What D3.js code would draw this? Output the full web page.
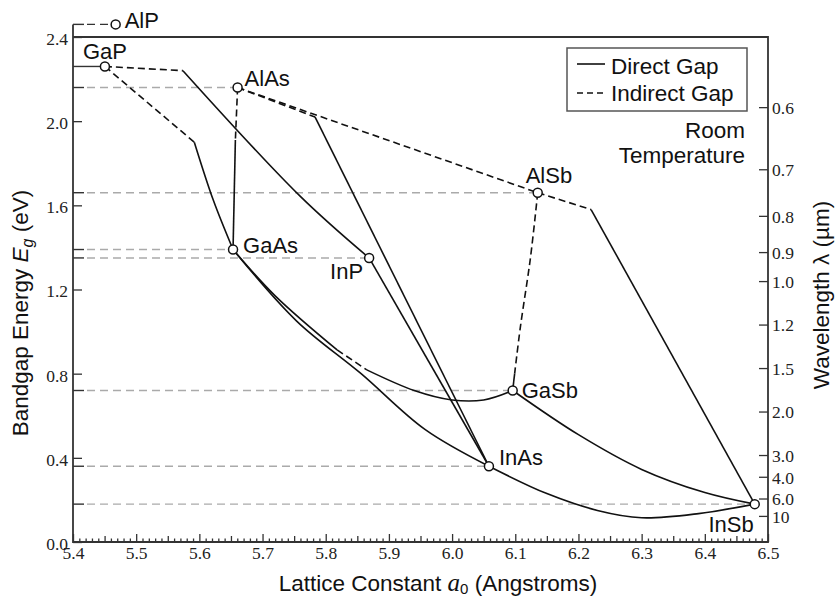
<!DOCTYPE html>
<html>
<head>
<meta charset="utf-8">
<script src="https://cdn.jsdelivr.net/npm/d3@7"></script>
<style>
  body { margin: 0; background: #fff; }
  svg { display: block; }
  .sans { font-family: "Liberation Sans", Arial, sans-serif; fill: #111; }
  .tick text { font-family: "Liberation Serif", "Times New Roman", serif; font-size: 17.5px; fill: #222; }
  .tick line { stroke: #333; stroke-width: 1.3; }
</style>
</head>
<body>
<div id="chart"></div>
<script>
// Binary compounds: lattice constant (Angstrom) and bandgap (eV)
const materials = ["AlP", "GaP", "AlAs", "GaAs", "InP", "AlSb", "GaSb", "InAs", "InSb"];
const latticeConst = [5.4675, 5.4505, 5.6605, 5.6533, 5.8687, 6.1355, 6.0959, 6.0583, 6.479];
const bandgap = [2.46, 2.26, 2.16, 1.39, 1.35, 1.66, 0.72, 0.36, 0.18];

// Ternary alloy curves, [a0, Eg] pairs
const indirectSegments = [
    [[5.4505, 2.26], [5.574, 2.24]],                       // GaP -> GaInP crossover
    [[5.4505, 2.26], [5.592, 1.90]],                       // GaP -> GaAsP crossover
    [[5.6605, 2.16], [5.657, 1.91]],                       // AlAs -> AlGaAs crossover
    [[5.6605, 2.16], [6.1355, 1.66]],                      // AlAs -> AlSb
    [[5.6605, 2.16], [5.783, 2.02]],                       // AlAs -> AlInAs crossover
    [[6.1355, 1.66], [6.22, 1.58]],                        // AlSb -> AlInSb crossover
    [[6.1355, 1.66], [6.124, 1.35], [6.108, 1.02], [6.099, 0.80]], // AlSb -> AlGaSb crossover
    [[5.818, 0.913], [5.865, 0.818]]                       // GaAsSb gap
];
const directSegments = [
    [[5.574, 2.24], [5.759, 1.645], [5.8687, 1.35]],       // GaInP
    [[5.592, 1.90], [5.622, 1.625], [5.6533, 1.39]],       // GaAsP
    [[5.657, 1.91], [5.6533, 1.39]],                       // AlGaAs
    [[5.783, 2.02], [6.0583, 0.36]],                       // AlInAs
    [[5.8687, 1.35], [6.0583, 0.36]],                      // InAsP
    [[5.6533, 1.39], [5.754, 1.05], [5.856, 0.80], [5.957, 0.535], [6.0583, 0.36]], // InGaAs
    [[5.6533, 1.39], [5.72, 1.17], [5.818, 0.913]],        // GaAsSb (upper part)
    [[5.865, 0.818], [5.94, 0.72], [6.0, 0.675], [6.05, 0.675], [6.0959, 0.72]], // GaAsSb (lower part)
    [[6.0959, 0.72], [6.20, 0.51], [6.30, 0.345], [6.40, 0.235], [6.479, 0.18]], // GaInSb
    [[6.0583, 0.36], [6.15, 0.23], [6.23, 0.15], [6.30, 0.115], [6.39, 0.135], [6.479, 0.18]], // InAsSb
    [[6.22, 1.58], [6.479, 0.18]],                         // AlInSb
    [[6.0959, 0.72], [6.099, 0.80]]                        // AlGaSb (direct part)
];

// Axis ticks
const energyTicks = [0.0, 0.4, 0.8, 1.2, 1.6, 2.0, 2.4];
const latticeTicks = [5.4, 5.5, 5.6, 5.7, 5.8, 5.9, 6.0, 6.1, 6.2, 6.3, 6.4, 6.5];
const wavelengthTicks = [0.6, 0.7, 0.8, 0.9, 1.0, 1.2, 1.5, 2.0, 3.0, 4.0, 6.0, 10];
const wavelengthLabels = ["0.6", "0.7", "0.8", "0.9", "1.0", "1.2", "1.5", "2.0", "3.0", "4.0", "6.0", "10"];

const W = 835, H = 599;
const margin = {left: 73, right: 768, top: 37, bottom: 542};

const svg = d3.select("#chart").append("svg")
    .attr("width", W)
    .attr("height", H);

const x = d3.scaleLinear().domain([5.4, 6.5]).range([margin.left, margin.right]);
const y = d3.scaleLinear().domain([0, 2.4]).range([margin.bottom, margin.top]);

// label placement relative to each marker
const labelPos = {
    AlP: [9, 4, "start"], GaP: [0, -7, "middle"], AlAs: [7, -2, "start"],
    GaAs: [10, 3, "start"], InP: [-6, 21, "end"], AlSb: [-12, -10, "start"],
    GaSb: [9, 7, "start"], InAs: [10, -1, "start"], InSb: [-1, 28, "end"]
};

const pts = materials.map((m, i) => ({name: m, a: latticeConst[i], eg: bandgap[i]}));

// Gray reference lines from the left axis to each compound
const refs = svg.append("g");
pts.forEach(p => {
    const yy = y(p.eg);
    if (p.name === "GaP") {
        refs.append("line").attr("x1", margin.left).attr("x2", x(p.a) - 4)
            .attr("y1", yy).attr("y2", yy).attr("stroke", "#333").attr("stroke-width", 1.4);
        return;
    }
    const dark = p.name === "AlP";
    refs.append("line").attr("x1", margin.left).attr("x2", margin.left + 11)
        .attr("y1", yy).attr("y2", yy).attr("stroke", "#333").attr("stroke-width", 1.4);
    refs.append("line").attr("x1", margin.left + 14).attr("x2", x(p.a) - 4)
        .attr("y1", yy).attr("y2", yy)
        .attr("stroke", dark ? "#333" : "#aaa")
        .attr("stroke-width", 1.4)
        .attr("stroke-dasharray", "8,5");
});

// Axes
const minor = d3.range(541, 650).map(d => d / 100).filter(d => Math.round(d * 100) % 10 !== 0);
const xMinor = svg.append("g").attr("transform", `translate(0,${margin.bottom})`)
    .call(d3.axisBottom(x).tickValues(minor).tickSize(-3).tickFormat(""));
xMinor.selectAll(".tick line").attr("y2", d => Math.round(d * 100) % 5 === 0 ? -6 : -3.5);

const xAxis = svg.append("g").attr("transform", `translate(0,${margin.bottom})`)
    .call(d3.axisBottom(x).tickValues(latticeTicks).tickSize(-8).tickPadding(5).tickFormat(d3.format(".1f")));

const yAxis = svg.append("g").attr("transform", `translate(${margin.left},0)`)
    .call(d3.axisLeft(y).tickValues(energyTicks).tickSize(-9).tickPadding(5).tickFormat(d3.format(".1f")));
yAxis.selectAll(".tick text").attr("dy", "0.42em");

const rAxis = svg.append("g").attr("transform", `translate(${margin.right},0)`)
    .call(d3.axisRight(y).tickValues(wavelengthTicks.map(l => 1.24 / l)).tickSize(-9).tickPadding(4)
        .tickFormat((d, i) => wavelengthLabels[i]));
rAxis.selectAll(".tick text").attr("dy", "0.36em");

svg.selectAll(".domain").remove();

// Frame
const frame = svg.append("g").attr("stroke", "#333").attr("stroke-width", 1.8).attr("fill", "none");
frame.append("path").attr("d",
    `M${margin.left},${y(bandgap[0])}V${margin.bottom}H${margin.right}V${margin.top}H${margin.left}`);

// Curves
const line = d3.line().x(d => x(d[0])).y(d => y(d[1])).curve(d3.curveCatmullRom.alpha(0.5));
svg.append("g").selectAll("path").data(directSegments).enter().append("path")
    .attr("d", line).attr("fill", "none").attr("stroke", "#111").attr("stroke-width", 1.6);
svg.append("g").selectAll("path").data(indirectSegments).enter().append("path")
    .attr("d", line).attr("fill", "none").attr("stroke", "#111").attr("stroke-width", 1.6)
    .attr("stroke-dasharray", "7,4");

// Markers and labels
svg.append("g").selectAll("circle").data(pts).enter().append("circle")
    .attr("cx", d => x(d.a)).attr("cy", d => y(d.eg)).attr("r", 4.5)
    .attr("fill", "#fff").attr("stroke", "#111").attr("stroke-width", 1.5);

svg.append("g").selectAll("text").data(pts).enter().append("text")
    .attr("class", "sans")
    .attr("x", d => x(d.a) + labelPos[d.name][0])
    .attr("y", d => y(d.eg) + labelPos[d.name][1])
    .attr("text-anchor", d => labelPos[d.name][2])
    .attr("font-size", 22)
    .text(d => d.name);

// Legend
const legend = svg.append("g");
legend.append("rect").attr("x", 567).attr("y", 48).attr("width", 180).attr("height", 63)
    .attr("fill", "#fff").attr("stroke", "#555").attr("stroke-width", 1.5);
legend.append("line").attr("x1", 577).attr("x2", 605).attr("y1", 64).attr("y2", 64)
    .attr("stroke", "#111").attr("stroke-width", 1.6);
legend.append("line").attr("x1", 577).attr("x2", 605).attr("y1", 93).attr("y2", 93)
    .attr("stroke", "#111").attr("stroke-width", 1.6).attr("stroke-dasharray", "6,4");
legend.append("text").attr("class", "sans").attr("x", 611).attr("y", 74).attr("font-size", 22.5).text("Direct Gap");
legend.append("text").attr("class", "sans").attr("x", 611).attr("y", 101).attr("font-size", 22.5).text("Indirect Gap");

svg.append("text").attr("class", "sans").attr("x", 745).attr("y", 138).attr("text-anchor", "end")
    .attr("font-size", 22.5).text("Room");
svg.append("text").attr("class", "sans").attr("x", 745).attr("y", 163).attr("text-anchor", "end")
    .attr("font-size", 22.5).text("Temperature");

// Axis titles
const xt = svg.append("text").attr("class", "sans").attr("x", 438).attr("y", 591)
    .attr("text-anchor", "middle").attr("font-size", 22.5);
xt.append("tspan").text("Lattice Constant ");
xt.append("tspan").attr("font-family", "Liberation Serif, serif").attr("font-style", "italic").attr("font-size", 25).text("a");
xt.append("tspan").attr("font-size", 15).attr("dy", 3).text("0");
xt.append("tspan").attr("dy", -3).text(" (Angstroms)");

const yt = svg.append("text").attr("class", "sans").attr("transform", "translate(28,313) rotate(-90)")
    .attr("text-anchor", "middle").attr("font-size", 22.5);
yt.append("tspan").text("Bandgap Energy ");
yt.append("tspan").attr("font-style", "italic").text("E");
yt.append("tspan").attr("font-style", "italic").attr("font-size", 16).attr("dy", 5).text("g");
yt.append("tspan").attr("dy", -5).text(" (eV)");

svg.append("text").attr("class", "sans").attr("transform", "translate(829,295) rotate(-90)")
    .attr("text-anchor", "middle").attr("font-size", 22.5).text("Wavelength λ (µm)");
</script>
</body>
</html>
